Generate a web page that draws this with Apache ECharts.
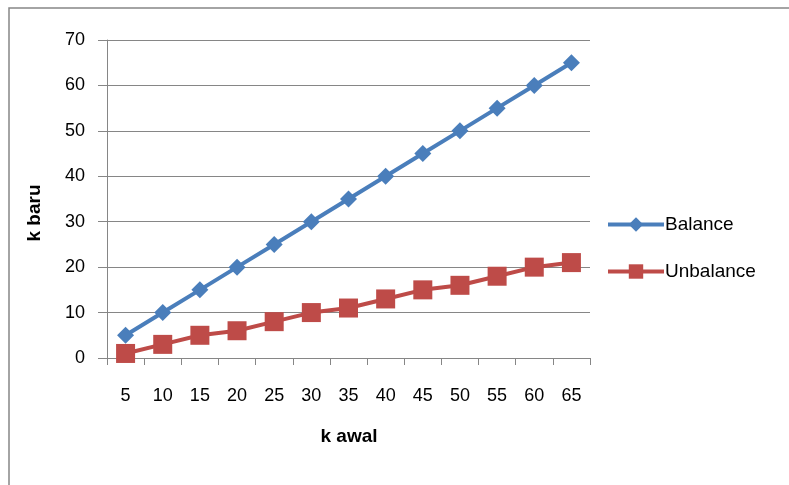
<!DOCTYPE html>
<html>
<head>
<meta charset="utf-8">
<script src="https://cdn.jsdelivr.net/npm/echarts@6/dist/echarts.min.js"></script>
<style>html,body{margin:0;padding:0;background:#fff}#c{width:789px;height:485px}</style>
</head>
<body>
<div id="c"></div>
<script>
const categories = ['5','10','15','20','25','30','35','40','45','50','55','60','65'];
const balance = [5,10,15,20,25,30,35,40,45,50,55,60,65];
const unbalance = [1,3,5,6,8,10,11,13,15,16,18,20,21];
const yTicks = {min:0, max:70, interval:10};
const xName = 'k awal';
const yName = 'k baru';

const chart = echarts.init(document.getElementById('c'));
const font = 'Liberation Sans, Arial, sans-serif';
chart.setOption({
  animation:false,
  backgroundColor:'#fff',
  textStyle:{fontFamily:font},
  graphic:[
    {type:'rect', shape:{x:9,y:8,width:900,height:600}, style:{fill:'none',stroke:'#868686',lineWidth:1.5}, silent:true, z:-1},
    {type:'text', x:35, y:213, rotation:Math.PI/2, style:{text:yName, fill:'#000', font:'bold 19px '+font, align:'center', verticalAlign:'middle'}},
    {type:'text', x:349, y:437, style:{text:xName, fill:'#000', font:'bold 19px '+font, align:'center', verticalAlign:'middle'}}
  ],
  grid:{left:107, right:199, top:40, bottom:127, containLabel:false},
  legend:{
    orient:'vertical', left:601, top:210, itemGap:28, itemWidth:56, itemHeight:18,
    lineStyle:{width:4},
    textStyle:{fontSize:19, color:'#000', fontFamily:font, padding:[0,0,0,-4]},
    data:['Balance','Unbalance']
  },
  xAxis:{
    type:'category', data:categories, boundaryGap:true,
    axisLine:{lineStyle:{color:'#868686',width:1}},
    axisTick:{show:true, length:7, lineStyle:{color:'#868686'}},
    axisLabel:{color:'#000', fontSize:18, margin:29, interval:0}
  },
  yAxis:{
    type:'value', min:yTicks.min, max:yTicks.max, interval:yTicks.interval,
    axisLine:{show:true, lineStyle:{color:'#868686',width:1}},
    axisTick:{show:true, length:9, lineStyle:{color:'#868686'}},
    splitLine:{lineStyle:{color:'#868686',width:1}},
    axisLabel:{color:'#000', fontSize:18, margin:22}
  },
  series:[
    {name:'Balance', type:'line', data:balance, symbol:'diamond', symbolSize:17,
     lineStyle:{color:'#4a7ebb', width:4}, itemStyle:{color:'#4a7ebb'}},
    {name:'Unbalance', type:'line', data:unbalance, symbol:'rect', symbolSize:19,
     lineStyle:{color:'#be4b48', width:4}, itemStyle:{color:'#be4b48'}}
  ]
});
</script>
</body>
</html>
